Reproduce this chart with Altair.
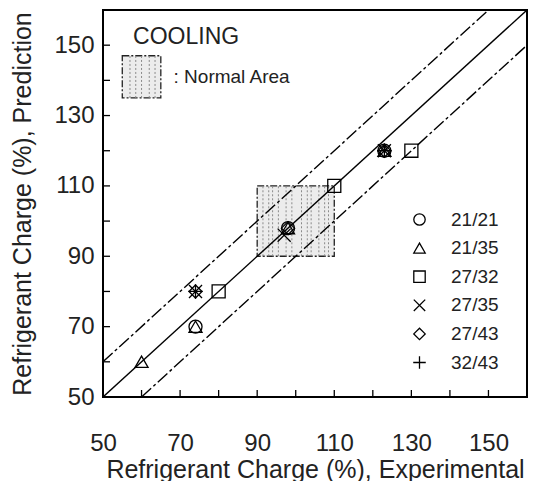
import altair as alt
import pandas as pd

# ---------------- data ----------------
categories = ["21/21", "21/35", "27/32", "27/35", "27/43", "32/43"]

pt_case = ["21/35",
           "21/21", "21/35",
           "27/35", "27/43", "32/43",
           "27/32",
           "21/21", "21/35", "27/43",
           "27/35",
           "27/32",
           "21/21", "21/35", "27/35", "27/43", "32/43",
           "27/32"]
pt_exp = [60,
          74, 74,
          74, 74, 74,
          80,
          98, 98, 98,
          97,
          110,
          123, 123, 123, 123, 123,
          130]
pt_pred = [60,
           70, 70,
           80, 80, 80,
           80,
           98, 98, 98,
           96,
           110,
           120, 120, 120, 120, 120,
           120]

axis_ticks = [60, 70, 80, 90, 100, 110, 120, 130, 140, 150]
tick_labels = [50, 70, 90, 110, 130, 150]

line_name = ["ideal", "ideal", "upper", "upper", "lower", "lower"]
line_x = [50, 160, 50, 150, 60, 160]
line_y = [50, 160, 60, 160, 50, 150]

normal_x = [90, 110]
normal_y = [90, 110]
normal_stripes = [91.5, 93, 94, 95.5, 97.5, 99, 101.5, 103, 104, 106, 107.5, 108.5]

icon_x = [55, 65]
icon_y = [135, 147]
icon_stripes = [57, 58.5, 60, 62, 63.5]

ann_text = ["COOLING", ": Normal Area"]
ann_x = [57.8, 68.3]
ann_y = [152.3, 141]

# ---------------- chart ----------------
W, H = 424, 387
FONT = "Liberation Sans"
TXT = "#222222"
xs = alt.Scale(domain=[50, 160], nice=False, zero=False)
ys = alt.Scale(domain=[50, 160], nice=False, zero=False)

shape_range = ["circle", "triangle-up", "square",
               "M-1,-1L1,1M-1,1L1,-1", "diamond",
               "M-1.1,0L1.1,0M0,-1.1L0,1.1"]

df_pts = pd.DataFrame({"case": pt_case, "exp": pt_exp, "pred": pt_pred})
df_lines = pd.DataFrame({"name": line_name, "x": line_x, "y": line_y})
df_box = pd.DataFrame({"x0": [normal_x[0], icon_x[0]], "x1": [normal_x[1], icon_x[1]],
                       "y0": [normal_y[0], icon_y[0]], "y1": [normal_y[1], icon_y[1]]})
df_str = pd.DataFrame({"x": normal_stripes + icon_stripes,
                       "y0": [normal_y[0]] * len(normal_stripes) + [icon_y[0]] * len(icon_stripes),
                       "y1": [normal_y[1]] * len(normal_stripes) + [icon_y[1]] * len(icon_stripes)})
df_ticks = pd.DataFrame({"t": axis_ticks})
df_ann = pd.DataFrame({"text": ann_text, "x": ann_x, "y": ann_y, "size": [23, 19]})

XT = "Refrigerant Charge (%), Experimental"
YT = "Refrigerant Charge (%), Prediction"

box = alt.Chart(df_box).mark_rect(fill="#ececec", stroke="#222222", strokeWidth=1.3,
                                  strokeDash=[7, 2, 2, 2]).encode(
    x=alt.X("x0:Q", scale=xs, title=XT,
            axis=alt.Axis(values=tick_labels, labelPadding=34, labelFlush=False,
                          titleY=80, titleBaseline="alphabetic")),
    x2="x1:Q",
    y=alt.Y("y0:Q", scale=ys, title=YT,
            axis=alt.Axis(values=tick_labels, labelPadding=9, labelFlush=False,
                          titleX=-73, titleBaseline="alphabetic")),
    y2="y1:Q")

stripes = alt.Chart(df_str).mark_rule(color="#8a8a8a", strokeWidth=1,
                                      strokeDash=[2, 2]).encode(
    x=alt.X("x:Q", scale=xs, title=XT),
    y=alt.Y("y0:Q", scale=ys, title=YT), y2="y1:Q")

ideal = alt.Chart(df_lines).transform_filter(alt.datum.name == "ideal").mark_line(
    color="black", strokeWidth=1.4, clip=True).encode(
    x=alt.X("x:Q", scale=xs, title=XT), y=alt.Y("y:Q", scale=ys, title=YT),
    detail="name:N")

bands = alt.Chart(df_lines).transform_filter(alt.datum.name != "ideal").mark_line(
    color="black", strokeWidth=1.4, strokeDash=[13, 3, 3, 3], clip=True).encode(
    x=alt.X("x:Q", scale=xs, title=XT), y=alt.Y("y:Q", scale=ys, title=YT),
    detail="name:N")

points = alt.Chart(df_pts).mark_point(filled=False, color="black", strokeWidth=1.3,
                                      size=170, opacity=1).encode(
    x=alt.X("exp:Q", scale=xs, title=XT),
    y=alt.Y("pred:Q", scale=ys, title=YT),
    shape=alt.Shape("case:N", scale=alt.Scale(domain=categories, range=shape_range),
                    legend=alt.Legend(title=None, orient="none", legendX=307, legendY=200,
                                      symbolSize=130, symbolStrokeWidth=1.3,
                                      symbolStrokeColor="black",
                                      symbolFillColor="transparent",
                                      labelFontSize=19, labelFont=FONT, labelColor=TXT,
                                      labelOffset=22, rowPadding=8.6, padding=0)))

bottom_ticks = alt.Chart(df_ticks).mark_rule(color="black", strokeWidth=1.3).encode(
    x=alt.X("t:Q", scale=xs, title=XT), y=alt.value(H), y2=alt.value(H - 7))
left_ticks = alt.Chart(df_ticks).mark_rule(color="black", strokeWidth=1.3).encode(
    y=alt.Y("t:Q", scale=ys, title=YT), x=alt.value(0), x2=alt.value(7))

ann = alt.Chart(df_ann).mark_text(align="left", baseline="middle", font=FONT,
                                  color=TXT).encode(
    x=alt.X("x:Q", scale=xs, title=XT), y=alt.Y("y:Q", scale=ys, title=YT),
    text="text:N", size=alt.Size("size:Q", scale=None, legend=None))

chart = alt.layer(box, stripes, bands, ideal, points, bottom_ticks, left_ticks, ann).properties(
    width=W, height=H,
    padding={"left": 95, "top": 2, "right": 2, "bottom": 84},
    autosize=alt.AutoSizeParams(type="none"),
    background="white",
).configure_view(stroke="black", strokeWidth=2).configure_axis(
    grid=False, ticks=False, tickSize=0, domain=False,
    labelFontSize=24, labelFont=FONT, labelColor=TXT,
    titleFont=FONT, titleFontSize=25, titleFontWeight="normal", titleColor=TXT,
)

chart.save("out.html", embed_options={"renderer": "svg", "actions": False})
